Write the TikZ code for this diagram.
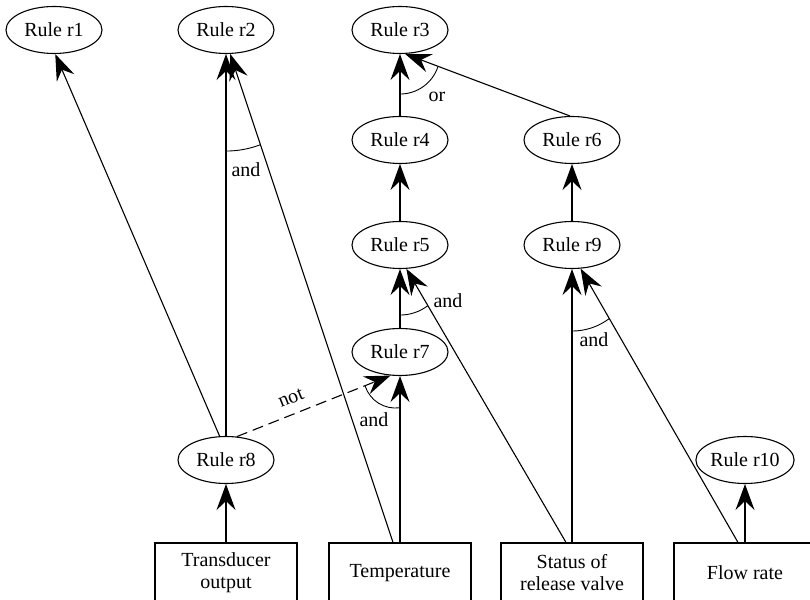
\documentclass[tikz,border=0pt]{standalone}
\usepackage{fontspec}
\setmainfont{Liberation Serif}
\usetikzlibrary{shapes.geometric,arrows.meta,calc}
\begin{document}
\begin{tikzpicture}[x=1pt,y=1pt,
  font=\fontsize{20}{22}\selectfont,
  line width=1.1pt,
  rule/.style={ellipse,draw,minimum width=96pt,minimum height=47pt,inner sep=0pt},
  source/.style={rectangle,draw,minimum width=142pt,minimum height=60pt,align=center,inner sep=0pt},
  link/.style={-{Stealth[length=26pt,width=19pt,inset=9pt]}},
  negated/.style={link,dash pattern=on 11pt off 6pt},
  arcmark/.style={line width=0.9pt},
  lbl/.style={anchor=base,inner sep=0pt}]
\useasboundingbox (0,0) rectangle (810,599);

% rules
\node[rule] (r1)  at (54,569)  {Rule r1};
\node[rule] (r2)  at (226,569) {Rule r2};
\node[rule] (r3)  at (400,569) {Rule r3};
\node[rule] (r4)  at (400,459) {Rule r4};
\node[rule] (r6)  at (572,459) {Rule r6};
\node[rule] (r5)  at (400,354) {Rule r5};
\node[rule] (r9)  at (572,354) {Rule r9};
\node[rule] (r7)  at (400,247) {Rule r7};
\node[rule] (r8)  at (226,139) {Rule r8};
\node[rule] (r10) at (745,139) {Rule r10};

% input data
\node[source] (trans)  at (226,26) {Transducer\\output};
\node[source] (temp)   at (400,26) {Temperature};
\node[source] (status) at (572,26) {Status of\\release valve};
\node[source] (flow)   at (745,26) {Flow rate};

\coordinate (temp-b)   at ($(temp.north)+(-7,0)$);
\coordinate (status-b) at ($(status.north)+(-6,0)$);
\coordinate (flow-b)   at ($(flow.north)+(-7,0)$);

% connectors
\draw[link] (trans.north) -- (r8.south);
\draw[link] (r8.north) -- (r2.south);
\draw[link] (r8.105) -- (r1.-87);
\draw[negated] (r8.65) -- (r7.-112);
\draw[link] (temp.north) -- (r7.south);
\draw[link] (temp-b) -- (r2.-80);
\draw[link] (r7.north) -- (r5.south);
\draw[link] (status-b) -- (r5.-75);
\draw[link] (status.north) -- (r9.south);
\draw[link] (flow-b) -- (r9.-70);
\draw[link] (flow.north) -- (r10.south);
\draw[link] (r9.north) -- (r6.south);
\draw[link] (r5.north) -- (r4.south);
\draw[link] (r4.north) -- (r3.south);
\draw[link] (r6.95) -- (r3.-78);

% conjunction arcs
\draw[arcmark] (r2.south) ++(-90:97) arc[start angle=-90,end angle=-69.4,radius=97];
\draw[arcmark] (r3.south) ++(-90:40) arc[start angle=-90,end angle=-18.4,radius=40];
\draw[arcmark] (r5.south) ++(-90:46) arc[start angle=-90,end angle=-53,radius=46];
\draw[arcmark] (r9.south) ++(-90:62) arc[start angle=-90,end angle=-53.2,radius=62];
\draw[arcmark] ($(r7.south)+(-4.5,0)$) ++(-161.6:32) arc[start angle=-161.6,end angle=-81.9,radius=32];

% labels
\node[lbl] (and-r2) at (246,422) {and};
\node[lbl] (or-r3)  at (437,497) {or};
\node[lbl] (and-r5) at (448,291) {and};
\node[lbl] (and-r7) at (374,172) {and};
\node[lbl] (and-r9) at (594,252) {and};
\node[rotate=21.9,inner sep=0pt] (not-r7) at (291,201) {not};
\end{tikzpicture}
\end{document}
